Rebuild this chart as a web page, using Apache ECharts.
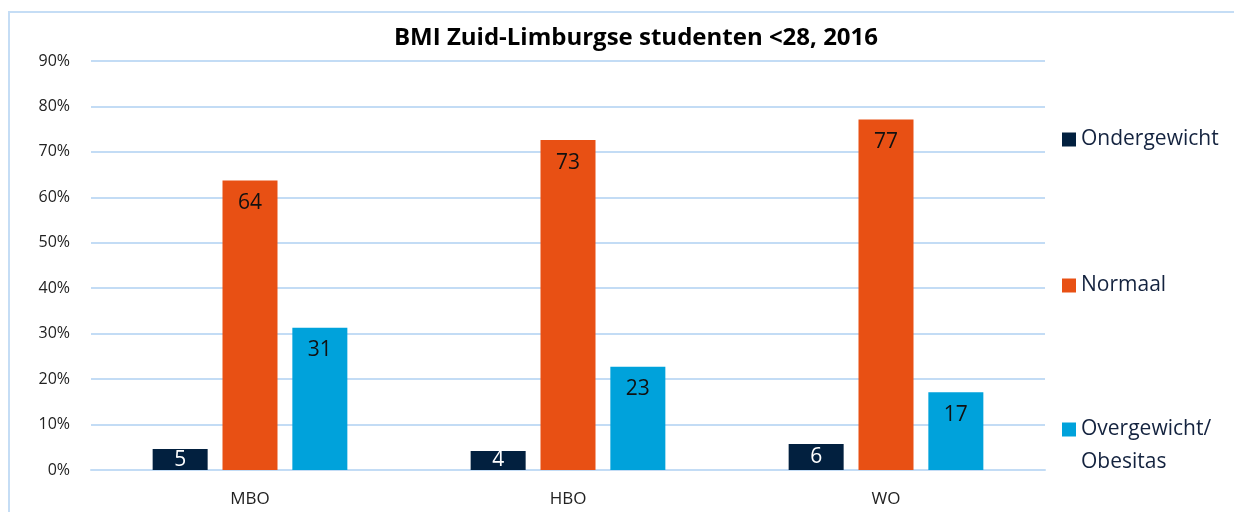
<!DOCTYPE html>
<html>
<head>
<meta charset="utf-8">
<script src="https://cdn.jsdelivr.net/npm/echarts@6/dist/echarts.min.js"></script>
<style>
  html, body { margin: 0; padding: 0; background: #fff; }
  #main { width: 1234px; height: 512px; }
</style>
</head>
<body>
<div id="main"></div>
<script>
// data (percent)
var categories = ["MBO", "HBO", "WO"];
var ondergewicht = [4.6, 4.2, 5.7];
var normaal = [63.7, 72.6, 77.1];
var overgewicht = [31.3, 22.7, 17.1];

var FONT = "'Open Sans', 'Noto Sans', sans-serif";
var gridColor = "#c3dcf5";

var chartDom = document.getElementById("main");
var myChart = echarts.init(chartDom, null, { renderer: "canvas" });

function roundLabel(p) {
  return Math.round(p.value);
}

var legendText = { fontFamily: FONT, fontSize: 21, color: "#14233f", lineHeight: 33 };

var option = {
  animation: false,
  backgroundColor: "#fff",
  title: {
    text: "BMI Zuid-Limburgse studenten <28, 2016",
    left: 631,
    top: 21,
    textAlign: "center",
    textStyle: { fontFamily: FONT, fontSize: 24, fontWeight: "bold", color: "#000" },
  },
  graphic: [
    {
      type: "rect",
      shape: { x: 9, y: 12, width: 1240, height: 520 },
      style: { fill: null, stroke: "#c5ddf5", lineWidth: 2 },
      silent: true,
    },
  ],
  legend: [
    {
      data: ["Ondergewicht"],
      orient: "vertical",
      left: 1057,
      top: 118,
      icon: "rect",
      itemWidth: 14,
      itemHeight: 14,
      textStyle: legendText,
    },
    {
      data: ["Normaal"],
      orient: "vertical",
      left: 1057,
      top: 264,
      icon: "rect",
      itemWidth: 14,
      itemHeight: 14,
      textStyle: legendText,
    },
    {
      // blank first line so the icon sits level with "Overgewicht/"
      data: ["Overgewicht/Obesitas"],
      orient: "vertical",
      left: 1057,
      top: 375,
      icon: "rect",
      itemWidth: 14,
      itemHeight: 14,
      formatter: function () {
        return " \nOvergewicht/\nObesitas";
      },
      textStyle: legendText,
    },
  ],
  grid: {
    left: 91,
    right: 189,
    top: 61,
    bottom: 42,
  },
  xAxis: {
    type: "category",
    data: categories,
    axisLine: { lineStyle: { color: gridColor, width: 2 } },
    axisTick: { show: false },
    axisLabel: { margin: 21, fontFamily: FONT, fontSize: 17, color: "#222" },
  },
  yAxis: {
    type: "value",
    min: 0,
    max: 90,
    interval: 10,
    axisLine: { show: false },
    axisTick: { show: false },
    splitLine: { lineStyle: { color: gridColor, width: 2 } },
    axisLabel: {
      margin: 21,
      formatter: "{value}%",
      fontFamily: FONT,
      fontSize: 16,
      color: "#222",
    },
  },
  series: [
    {
      name: "Ondergewicht",
      type: "bar",
      data: ondergewicht,
      barWidth: 55,
      barGap: "27%",
      itemStyle: { color: "#02203f" },
      label: {
        show: true,
        position: "inside",
        formatter: roundLabel,
        fontFamily: FONT,
        fontSize: 21,
        color: "#fff",
      },
    },
    {
      name: "Normaal",
      type: "bar",
      data: normaal,
      barWidth: 55,
      barGap: "27%",
      itemStyle: { color: "#e85014" },
      label: {
        show: true,
        position: "insideTop",
        distance: 12,
        formatter: roundLabel,
        fontFamily: FONT,
        fontSize: 21,
        color: "#111",
      },
    },
    {
      name: "Overgewicht/Obesitas",
      type: "bar",
      data: overgewicht,
      barWidth: 55,
      barGap: "27%",
      itemStyle: { color: "#00a2db" },
      label: {
        show: true,
        position: "insideTop",
        distance: 12,
        formatter: roundLabel,
        fontFamily: FONT,
        fontSize: 21,
        color: "#111",
      },
    },
  ],
};

option && myChart.setOption(option);
</script>
</body>
</html>
